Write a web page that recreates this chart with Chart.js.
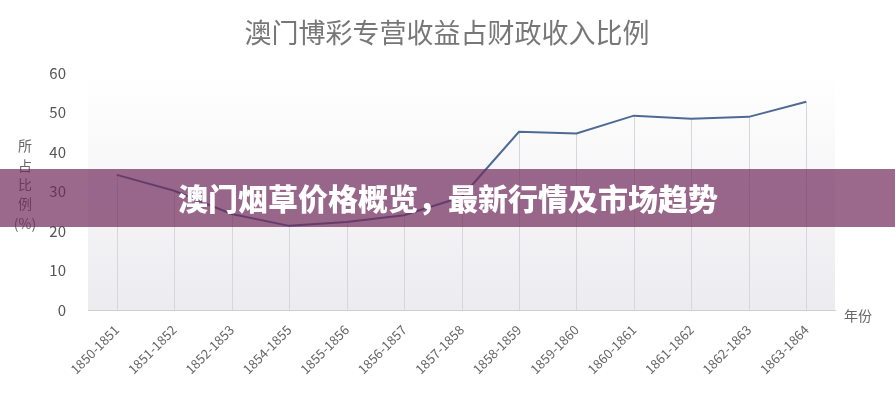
<!DOCTYPE html>
<html>
<head>
<meta charset="utf-8">
<script src="https://cdn.jsdelivr.net/npm/chart.js@4/dist/chart.umd.min.js"></script>
<style>
  html, body { margin: 0; padding: 0; background: #ffffff; }
  #wrap { width: 895px; height: 397px; position: relative; }
</style>
</head>
<body>
<div id="wrap"><canvas id="c" width="895" height="397"></canvas></div>
<script>
// 澳门博彩专营收益占财政收入比例（%）
const years = ['1850-1851','1851-1852','1852-1853','1854-1855','1855-1856','1856-1857','1857-1858',
               '1858-1859','1859-1860','1860-1861','1861-1862','1862-1863','1863-1864'];
const shares = [34.2, 30.2, 24.3, 21.3, 22.3, 24.0, 28.6, 45.1, 44.7, 49.2, 48.4, 48.9, 52.7];
const yTicks = [0, 10, 20, 30, 40, 50, 60];

const chartTitle = '澳门博彩专营收益占财政收入比例';
const yTitle = ['所', '占', '比', '例', '(%)'];
const xTitle = '年份';
const bannerText = '澳门烟草价格概览，最新行情及市场趋势';

const FONT = '"Noto Sans CJK SC", "Noto Sans", "Liberation Sans", sans-serif';

// soft grey fade inside the plotting area
const areaShade = {
  id: 'areaShade',
  beforeDatasetsDraw(chart) {
    const { ctx, chartArea: a } = chart;
    const g = ctx.createLinearGradient(0, a.top, 0, a.bottom);
    g.addColorStop(0, 'rgba(255,255,255,1)');
    g.addColorStop(1, 'rgba(236,236,240,1)');
    ctx.save();
    ctx.fillStyle = g;
    ctx.fillRect(a.left, a.top, a.right - a.left, a.bottom - a.top);
    // drop lines from each point down to the axis
    const meta = chart.getDatasetMeta(0);
    const base = chart.scales.y.getPixelForValue(0);
    ctx.strokeStyle = '#d6d6db';
    ctx.lineWidth = 1;
    meta.data.forEach(p => {
      const x = Math.round(p.x) + 0.5;
      ctx.beginPath();
      ctx.moveTo(x, p.y);
      ctx.lineTo(x, base);
      ctx.stroke();
    });
    ctx.restore();
  }
};

// title, axis captions and the banner strip
const decorations = {
  id: 'decorations',
  afterDraw(chart) {
    const { ctx, chartArea: a } = chart;
    ctx.save();
    ctx.textBaseline = 'middle';

    ctx.fillStyle = '#777777';
    ctx.textAlign = 'center';
    ctx.font = '27px ' + FONT;
    ctx.fillText(chartTitle, 447, 33);

    ctx.fillStyle = '#666666';
    ctx.font = '14px ' + FONT;
    yTitle.forEach((t, i) => ctx.fillText(t, 25, 146 + i * 19.3));

    ctx.textAlign = 'left';
    ctx.font = '14px ' + FONT;
    ctx.fillText(xTitle, a.right + 9, a.bottom + 6);

    ctx.fillStyle = 'rgba(112,42,91,0.7)';
    ctx.fillRect(0, 169, chart.width, 58);
    ctx.fillStyle = '#ffffff';
    ctx.textAlign = 'center';
    ctx.font = '900 30px ' + FONT;
    ctx.fillText(bannerText, 448, 199);
    ctx.restore();
  }
};

new Chart(document.getElementById('c'), {
  type: 'line',
  data: {
    labels: years,
    datasets: [{
      data: shares,
      borderColor: '#4d6a95',
      borderWidth: 2,
      pointRadius: 0,
      pointHoverRadius: 0,
      tension: 0,
      fill: false
    }]
  },
  options: {
    responsive: false,
    animation: false,
    devicePixelRatio: 1,
    layout: { padding: { top: 73, right: 60, left: 0, bottom: 0 } },
    plugins: { legend: { display: false }, title: { display: false }, tooltip: { enabled: false } },
    scales: {
      x: {
        offset: true,
        grid: { display: false },
        border: { display: true, color: '#d0d0d4', width: 1 },
        ticks: {
          color: '#666666',
          font: { family: FONT, size: 13 },
          maxRotation: 45, minRotation: 45,
          autoSkip: false,
          padding: 4
        },
        afterFit(s) { s.height = 87; }
      },
      y: {
        min: 0, max: 60,
        afterBuildTicks(s) { s.ticks = yTicks.map(v => ({ value: v })); },
        grid: { display: false },
        border: { display: false },
        ticks: {
          color: '#555555',
          font: { family: FONT, size: 15 },
          padding: 14
        },
        afterFit(s) { s.width = 88; }
      }
    }
  },
  plugins: [areaShade, decorations]
});
</script>
</body>
</html>
